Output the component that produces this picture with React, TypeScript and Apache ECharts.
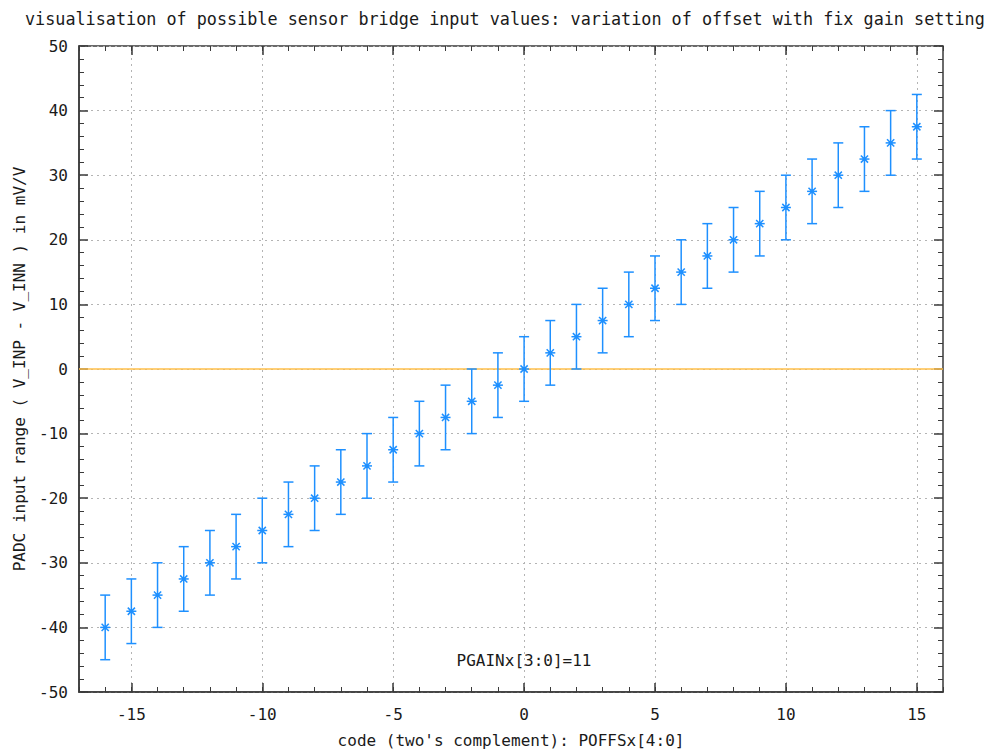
import React, { useEffect, useRef } from "react";
import * as echarts from "echarts";

const codes = [-16, -15, -14, -13, -12, -11, -10, -9, -8, -7, -6, -5, -4, -3, -2, -1, 0, 1, 2, 3, 4, 5, 6, 7, 8, 9, 10, 11, 12, 13, 14, 15];
const centers = [-40, -37.5, -35, -32.5, -30, -27.5, -25, -22.5, -20, -17.5, -15, -12.5, -10, -7.5, -5, -2.5, 0, 2.5, 5, 7.5, 10, 12.5, 15, 17.5, 20, 22.5, 25, 27.5, 30, 32.5, 35, 37.5];
const lows = [-45, -42.5, -40, -37.5, -35, -32.5, -30, -27.5, -25, -22.5, -20, -17.5, -15, -12.5, -10, -7.5, -5, -2.5, 0, 2.5, 5, 7.5, 10, 12.5, 15, 17.5, 20, 22.5, 25, 27.5, 30, 32.5];
const highs = [-35, -32.5, -30, -27.5, -25, -22.5, -20, -17.5, -15, -12.5, -10, -7.5, -5, -2.5, 0, 2.5, 5, 7.5, 10, 12.5, 15, 17.5, 20, 22.5, 25, 27.5, 30, 32.5, 35, 37.5, 40, 42.5];
const xMajorTicks = [-15, -10, -5, 0, 5, 10, 15];
const xMin = -17;
const xMax = 16;
const yMin = -50;
const yMax = 50;
const zeroLine = [[-17, 0], [16, 0]];

const titleText = "visualisation of possible sensor bridge input values: variation of offset with fix gain setting";
const xName = "code (two's complement): POFFSx[4:0]";
const yName = "PADC input range ( V_INP - V_INN ) in mV/V";
const noteText = "PGAINx[3:0]=11";

const FONT = "DejaVu Sans Mono";
const BLUE = "#1e90ff";
const TXT = "#1a1a1a";
const AX = "#3a3a3a";

export default function App() {
  const ref = useRef<HTMLDivElement>(null);
  useEffect(() => {
    if (!ref.current) return;
    const chart = echarts.init(ref.current, null, { renderer: "svg" });
    const labelStyle = { fontFamily: FONT, fontSize: 16, color: TXT };
    const gridLine = { show: true, lineStyle: { color: "#b4b4b4", type: [2, 4] as any, width: 1 } };
    const data = codes.map((c, i) => [c, centers[i], lows[i], highs[i]]);
    const option: any = {
      animation: false,
      backgroundColor: "#ffffff",
      title: {
        text: titleText,
        left: 20,
        top: 5,
        textStyle: { fontFamily: FONT, fontSize: 16.8, fontWeight: "normal", color: TXT },
      },
      grid: {
        left: 79,
        right: 57,
        top: 46,
        bottom: 64,
        show: true,
        borderColor: AX,
        borderWidth: 1.5,
        backgroundColor: "transparent",
      },
      xAxis: [
        {
          type: "value",
          min: xMin,
          max: xMax,
          interval: 1,
          position: "bottom",
          name: xName,
          nameLocation: "middle",
          nameGap: 40,
          nameTextStyle: { fontFamily: FONT, fontSize: 16, color: TXT },
          axisLine: { show: true, onZero: false, lineStyle: { color: AX, width: 1.5 } },
          axisTick: { show: true, inside: true, length: 5, lineStyle: { color: AX } },
          axisLabel: { ...labelStyle, margin: 14, customValues: xMajorTicks },
          splitLine: { show: false },
        },
        {
          type: "value",
          min: xMin,
          max: xMax,
          position: "bottom",
          axisLine: { show: false, onZero: false },
          axisTick: { show: true, inside: true, length: 9, customValues: xMajorTicks, lineStyle: { color: AX, width: 1.5 } },
          axisLabel: { show: false },
          splitLine: gridLine,
        },
        {
          type: "value",
          min: xMin,
          max: xMax,
          interval: 1,
          position: "top",
          axisLine: { show: false, onZero: false },
          axisTick: { show: true, inside: true, length: 5, lineStyle: { color: AX } },
          axisLabel: { show: false },
          splitLine: { show: false },
        },
        {
          type: "value",
          min: xMin,
          max: xMax,
          position: "top",
          axisLine: { show: false, onZero: false },
          axisTick: { show: true, inside: true, length: 9, customValues: xMajorTicks, lineStyle: { color: AX, width: 1.5 } },
          axisLabel: { show: false },
          splitLine: { show: false },
        },
      ],
      yAxis: [
        {
          type: "value",
          min: yMin,
          max: yMax,
          interval: 10,
          position: "left",
          name: yName,
          nameLocation: "middle",
          nameGap: 52,
          nameTextStyle: { fontFamily: FONT, fontSize: 16, color: TXT },
          axisLine: { show: true, onZero: false, lineStyle: { color: AX, width: 1.5 } },
          axisTick: { show: true, inside: true, length: 9, lineStyle: { color: AX, width: 1.5 } },
          minorTick: { show: true, splitNumber: 5, length: 5, lineStyle: { color: AX } },
          axisLabel: { ...labelStyle, margin: 11 },
          splitLine: gridLine,
        },
        {
          type: "value",
          min: yMin,
          max: yMax,
          interval: 10,
          position: "right",
          axisLine: { show: false, onZero: false },
          axisTick: { show: true, inside: true, length: 9, lineStyle: { color: AX, width: 1.5 } },
          minorTick: { show: true, splitNumber: 5, length: 5, lineStyle: { color: AX } },
          axisLabel: { show: false },
          splitLine: { show: false },
        },
      ],
      graphic: [
        {
          type: "text",
          x: 524,
          y: 660,
          style: {
            text: noteText,
            fontFamily: FONT,
            fontSize: 16,
            fill: TXT,
            textAlign: "center",
            textVerticalAlign: "middle",
          },
        },
      ],
      series: [
        {
          type: "line",
          data: zeroLine,
          showSymbol: false,
          symbol: "none",
          lineStyle: { color: "#ffbf4a", width: 1.5 },
          z: 1,
          silent: true,
        },
        {
          type: "custom",
          data,
          encode: { x: 0, y: [1, 2, 3] },
          z: 3,
          renderItem: (params: any, api: any) => {
            const x = api.value(0);
            const pM = api.coord([x, api.value(1)]);
            const pLo = api.coord([x, api.value(2)]);
            const pHi = api.coord([x, api.value(3)]);
            const cw = 5;
            const s = 5;
            const d = 3.6;
            const st = { stroke: BLUE, lineWidth: 1.5 };
            const line = (x1: number, y1: number, x2: number, y2: number) => ({
              type: "line",
              shape: { x1, y1, x2, y2 },
              style: st,
            });
            return {
              type: "group",
              children: [
                line(pLo[0], pLo[1], pHi[0], pHi[1]),
                line(pLo[0] - cw, pLo[1], pLo[0] + cw, pLo[1]),
                line(pHi[0] - cw, pHi[1], pHi[0] + cw, pHi[1]),
                line(pM[0] - s, pM[1], pM[0] + s, pM[1]),
                line(pM[0] - d, pM[1] - d, pM[0] + d, pM[1] + d),
                line(pM[0] - d, pM[1] + d, pM[0] + d, pM[1] - d),
                { type: "circle", shape: { cx: pM[0], cy: pM[1], r: 2 }, style: { fill: BLUE } },
              ],
            };
          },
        },
      ],
    };
    chart.setOption(option);
    return () => chart.dispose();
  }, []);
  return <div ref={ref} style={{ position: "absolute", left: 0, top: 0, width: 1000, height: 756 }} />;
}
